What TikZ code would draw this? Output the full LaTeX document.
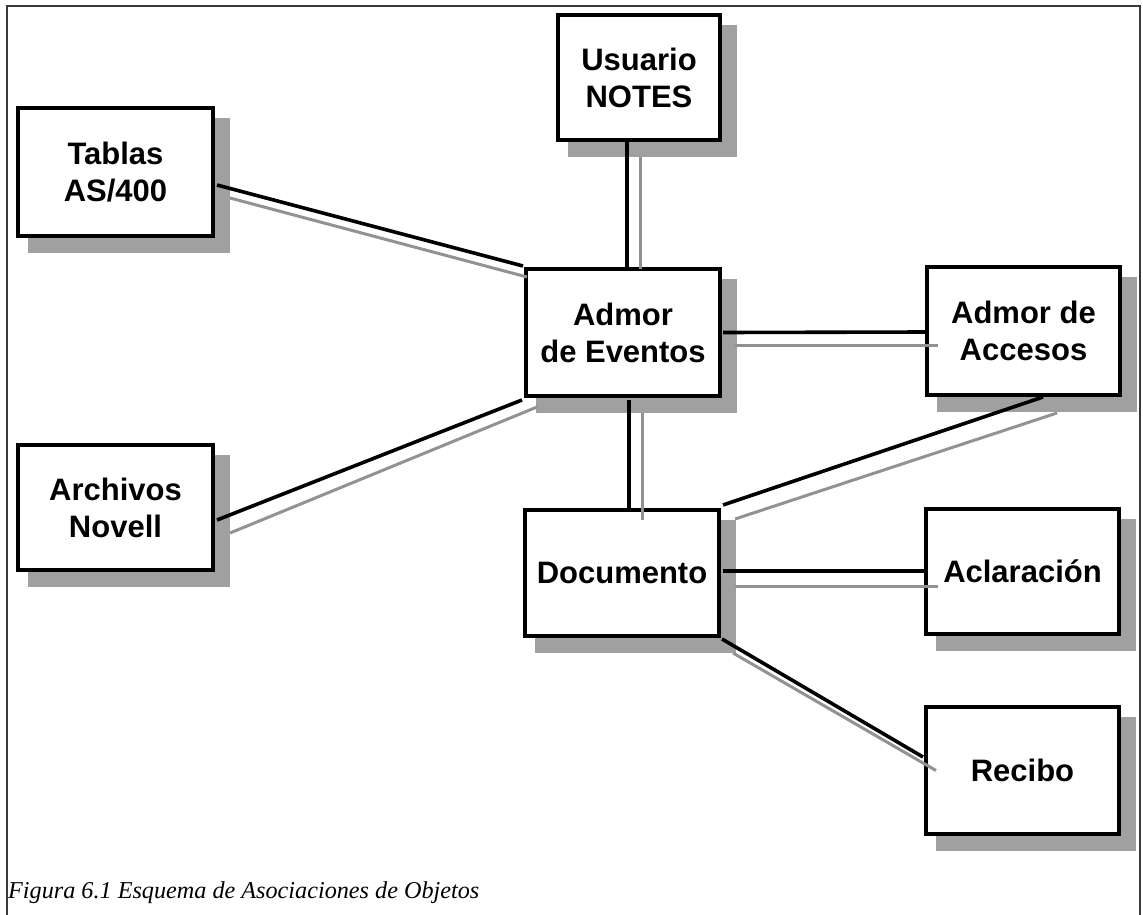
\documentclass[tikz,border=0pt]{standalone}
\usepackage{fontspec}
\setmainfont{Liberation Serif}
\newfontfamily\boxfont{Liberation Sans}
\usetikzlibrary{backgrounds,calc}
\definecolor{shadowgray}{HTML}{A0A0A0}
\definecolor{linegray}{HTML}{929292}
\definecolor{framegray}{HTML}{3A3A3A}
\tikzset{
  objbox/.style={draw=black, line width=3.6pt, fill=white, inner sep=0pt, outer sep=0pt,
    minimum width=194pt, minimum height=127pt, align=center,
    font=\boxfont\bfseries\fontsize{31}{37}\selectfont},
  blackline/.style={draw=black, line width=3.6pt},
  grayline/.style={draw=linegray, line width=3pt},
  shadowfill/.style={fill=shadowgray},
  framestyle/.style={draw=framegray, line width=1.6pt}
}
\begin{document}
\begin{tikzpicture}[x=1pt,y=-1pt]
\useasboundingbox (0,0) rectangle (1143,915);
% frame
\draw[framestyle] (7,915) -- (7,6) -- (1140,6) -- (1140,915);
% boxes
\node[objbox, minimum width=162pt, minimum height=125pt] (usr) at (639,77.5) {Usuario\\NOTES};
\node[objbox, minimum width=195pt, minimum height=128pt] (tab) at (115.5,172) {Tablas\\AS/400};
\node[objbox] (evt) at (623,332.5) {Admor\\de Eventos};
\node[objbox, minimum width=193pt, minimum height=128pt] (acc) at (1023.5,331) {Admor de\\Accesos};
\node[objbox, minimum width=195pt, minimum height=125pt] (arc) at (115.5,507.5) {Archivos\\Novell};
\node[objbox, minimum height=126pt] (doc) at (622,573) {Documento};
\node[objbox, minimum width=193pt, minimum height=125pt] (acl) at (1022.5,571.5) {Aclaraci\'on};
\node[objbox, minimum width=193pt] (rec) at (1022.5,770.5) {Recibo};
% caption
\node[anchor=west, inner sep=0pt, font=\itshape\fontsize{24.2}{29}\selectfont] (cap) at (8,893) {Figura 6.1 Esquema de Asociaciones de Objetos};
\begin{scope}[on background layer]
  \foreach \b in {usr,tab,evt,acc,arc,doc,acl,rec}{
    \fill[shadowfill] ([shift={(10,10)}]\b.north west) rectangle ([shift={(17,17)}]\b.south east);
  }
\end{scope}
% connectors
% Usuario - Eventos
\draw[blackline] ([shift={(-12,0)}]usr.south) -- ([shift={(4,0)}]evt.north);
\draw[grayline] ([shift={(1,17)}]usr.south) -- ([shift={(17,0)}]evt.north);
% Tablas - Eventos
\draw[blackline] ([shift={(4,77)}]tab.north east) -- ([shift={(-3,-3)}]evt.north west);
\draw[grayline] ([shift={(17,90)}]tab.north east) -- ([shift={(1,8)}]evt.north west);
% Archivos - Eventos
\draw[blackline] ([shift={(4,75)}]arc.north east) -- ([shift={(-4,4)}]evt.south west);
\draw[grayline] ([shift={(17,88)}]arc.north east) -- ([shift={(11,11)}]evt.south west);
% Eventos - Accesos
\draw[blackline] ([shift={(3,0)}]evt.east) -- ([shift={(0,1)}]acc.west);
\draw[grayline] ([shift={(15,12.5)}]evt.east) -- ([shift={(11,14)}]acc.west);
% Eventos - Documento
\draw[blackline] ([shift={(6,4)}]evt.south) -- ([shift={(7,0)}]doc.north);
\draw[grayline] ([shift={(19,17)}]evt.south) -- ([shift={(20,10)}]doc.north);
% Accesos - Documento
\draw[blackline] ([shift={(19.5,2)}]acc.south) -- ([shift={(4,-5)}]doc.north east);
\draw[grayline] ([shift={(33.5,18)}]acc.south) -- ([shift={(16,9)}]doc.north east);
% Documento - Aclaracion
\draw[blackline] ([shift={(4,-2)}]doc.east) -- ([shift={(0,-0.5)}]acl.west);
\draw[grayline] ([shift={(16,13)}]doc.east) -- ([shift={(12,14.5)}]acl.west);
% Documento - Recibo
\draw[blackline] ([shift={(3,3)}]doc.south east) -- ([shift={(-3,-13.5)}]rec.west);
\draw[grayline] ([shift={(14,17)}]doc.south east) -- ([shift={(10,0)}]rec.west);
\end{tikzpicture}
\end{document}
